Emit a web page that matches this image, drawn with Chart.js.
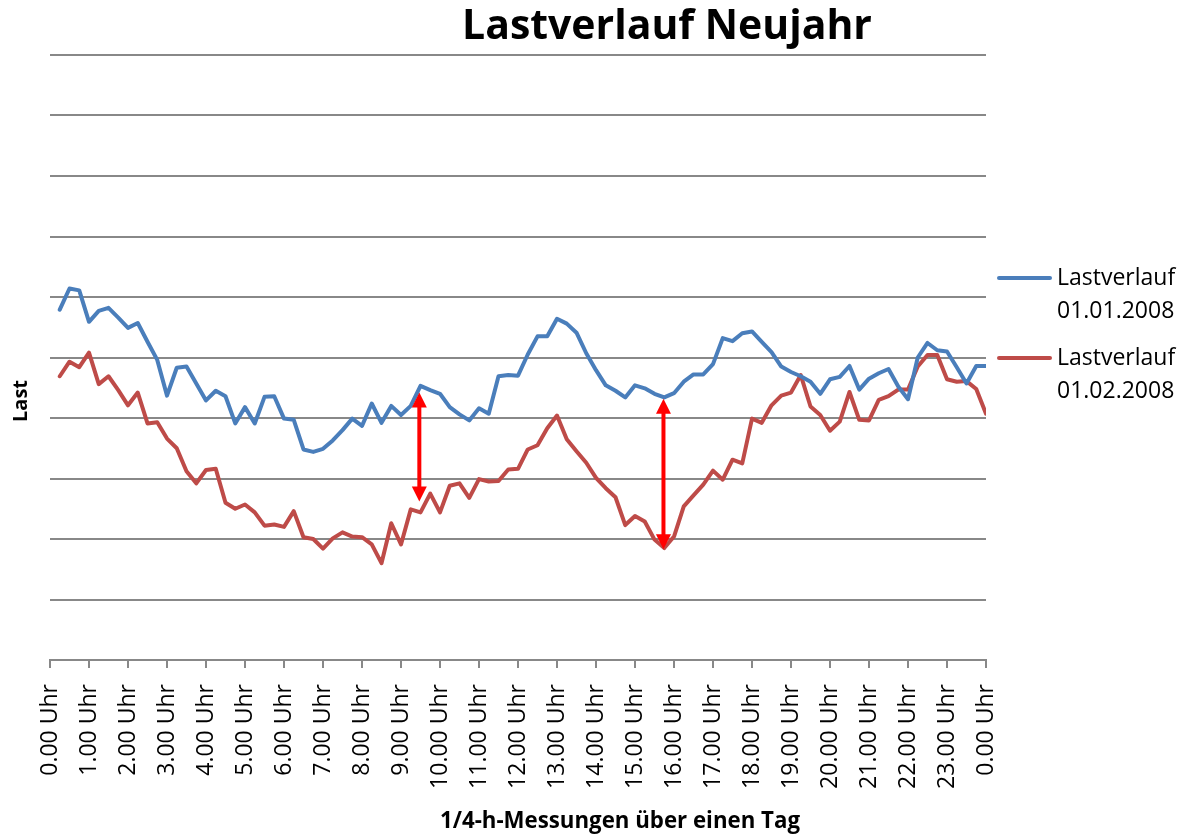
<!DOCTYPE html>
<html>
<head>
<meta charset="utf-8">
<script src="https://cdn.jsdelivr.net/npm/chart.js@4/dist/chart.umd.min.js"></script>
<style>
  html, body { margin: 0; padding: 0; background: #ffffff; }
  canvas { display: block; }
</style>
</head>
<body>
<canvas id="c" width="1185" height="838"></canvas>
<script>
// ---------------- data ----------------
const titleText = 'Lastverlauf Neujahr';
const xAxisTitle = '1/4-h-Messungen über einen Tag';
const yAxisTitle = 'Last';

const hourLabels = [
  '0.00 Uhr', '1.00 Uhr', '2.00 Uhr', '3.00 Uhr', '4.00 Uhr', '5.00 Uhr',
  '6.00 Uhr', '7.00 Uhr', '8.00 Uhr', '9.00 Uhr', '10.00 Uhr', '11.00 Uhr',
  '12.00 Uhr', '13.00 Uhr', '14.00 Uhr', '15.00 Uhr', '16.00 Uhr', '17.00 Uhr',
  '18.00 Uhr', '19.00 Uhr', '20.00 Uhr', '21.00 Uhr', '22.00 Uhr', '23.00 Uhr',
  '0.00 Uhr'
];

const seriesNames = [
  ['Lastverlauf', '01.01.2008'],
  ['Lastverlauf', '01.02.2008']
];

// quarter-hour values, 00:15 ... 24:00 (relative load units, one unit per grid line)
const load20080101 = [
  5.79, 6.14, 6.11, 5.59, 5.77, 5.82, 5.66, 5.49, 5.57, 5.26, 4.96, 4.37,
  4.83, 4.85, 4.57, 4.29, 4.45, 4.36, 3.91, 4.18, 3.91, 4.35, 4.36, 3.99,
  3.97, 3.48, 3.44, 3.49, 3.63, 3.80, 3.99, 3.87, 4.24, 3.92, 4.20, 4.05,
  4.20, 4.53, 4.46, 4.40, 4.18, 4.06, 3.96, 4.16, 4.07, 4.69, 4.71, 4.70,
  5.05, 5.35, 5.35, 5.64, 5.56, 5.41, 5.07, 4.79, 4.54, 4.45, 4.34, 4.54,
  4.49, 4.40, 4.34, 4.41, 4.60, 4.72, 4.72, 4.89, 5.32, 5.27, 5.40, 5.43,
  5.26, 5.09, 4.85, 4.76, 4.69, 4.60, 4.40, 4.64, 4.68, 4.86, 4.47, 4.65,
  4.74, 4.81, 4.52, 4.31, 5.00, 5.24, 5.12, 5.10, 4.84, 4.57, 4.86, 4.86
];

const load20080201 = [
  4.69, 4.93, 4.84, 5.08, 4.56, 4.69, 4.46, 4.21, 4.42, 3.91, 3.93, 3.66,
  3.50, 3.12, 2.92, 3.14, 3.16, 2.60, 2.50, 2.57, 2.44, 2.22, 2.24, 2.20,
  2.46, 2.03, 2.00, 1.84, 2.01, 2.11, 2.04, 2.03, 1.91, 1.60, 2.26, 1.91,
  2.49, 2.44, 2.75, 2.44, 2.88, 2.92, 2.68, 2.99, 2.95, 2.96, 3.15, 3.16,
  3.48, 3.55, 3.83, 4.04, 3.65, 3.45, 3.26, 3.01, 2.84, 2.69, 2.23, 2.38,
  2.29, 1.99, 1.85, 2.04, 2.54, 2.72, 2.90, 3.13, 2.98, 3.31, 3.25, 3.99,
  3.92, 4.21, 4.37, 4.42, 4.71, 4.19, 4.05, 3.79, 3.94, 4.43, 3.97, 3.96,
  4.30, 4.36, 4.47, 4.47, 4.85, 5.04, 5.04, 4.64, 4.60, 4.61, 4.48, 4.07
];

// red double arrows marking the difference (hour position, top value, bottom value)
const arrowHours  = [9.47, 15.73];
const arrowTop    = [4.42, 4.32];
const arrowBottom = [2.62, 1.83];

// ---------------- styling ----------------
const FONT = '"Open Sans", "DejaVu Sans", sans-serif';
const GRID = '#888888';
const BLUE = '#4A7EBB';
const RED = '#BE4B48';

function toPoints(values) {
  return values.map((v, i) => ({ x: (i + 1) / 4, y: v }));
}

function fitFont(ctx, text, targetW, weight) {
  ctx.font = weight + ' 100px ' + FONT;
  const w = ctx.measureText(text).width;
  const size = 100 * targetW / w;
  ctx.font = weight + ' ' + size.toFixed(2) + 'px ' + FONT;
}

const decorPlugin = {
  id: 'decor',
  afterDatasetsDraw(chart) {
    const ctx = chart.ctx;
    const xs = chart.scales.x, ys = chart.scales.y;
    // arrows
    ctx.save();
    ctx.strokeStyle = '#FF0000';
    ctx.fillStyle = '#FF0000';
    ctx.lineWidth = 4;
    for (let i = 0; i < arrowHours.length; i++) {
      const x = xs.getPixelForValue(arrowHours[i]);
      const yt = ys.getPixelForValue(arrowTop[i]);
      const yb = ys.getPixelForValue(arrowBottom[i]);
      const hl = 15, hw = 7.5;
      ctx.beginPath();
      ctx.moveTo(x, yt + hl - 1);
      ctx.lineTo(x, yb - hl + 1);
      ctx.stroke();
      ctx.beginPath();
      ctx.moveTo(x, yt); ctx.lineTo(x - hw, yt + hl); ctx.lineTo(x + hw, yt + hl); ctx.closePath();
      ctx.fill();
      ctx.beginPath();
      ctx.moveTo(x, yb); ctx.lineTo(x - hw, yb - hl); ctx.lineTo(x + hw, yb - hl); ctx.closePath();
      ctx.fill();
    }
    ctx.restore();
  },
  afterDraw(chart) {
    const ctx = chart.ctx;
    ctx.save();
    ctx.fillStyle = '#000000';
    // title
    fitFont(ctx, titleText, 410, 'bold');
    ctx.textAlign = 'center';
    ctx.textBaseline = 'alphabetic';
    ctx.fillText(titleText, 667, 39);
    // x axis title
    fitFont(ctx, xAxisTitle, 360, 'bold');
    ctx.fillText(xAxisTitle, 620, 828);
    // y axis title
    ctx.save();
    ctx.translate(27, 401);
    ctx.rotate(-Math.PI / 2);
    fitFont(ctx, yAxisTitle, 42, 'bold');
    ctx.textAlign = 'center';
    ctx.fillText(yAxisTitle, 0, 0);
    ctx.restore();
    // legend
    const legendY = [278, 358];
    chart.data.datasets.forEach((ds, i) => {
      const y = legendY[i];
      ctx.strokeStyle = ds.borderColor;
      ctx.lineWidth = 4;
      ctx.lineCap = 'round';
      ctx.beginPath();
      ctx.moveTo(999, y);
      ctx.lineTo(1050, y);
      ctx.stroke();
      ctx.fillStyle = '#000000';
      ctx.font = '23px ' + FONT;
      ctx.textAlign = 'left';
      ctx.textBaseline = 'middle';
      seriesNames[i].forEach((line, j) => {
        ctx.fillText(line, 1057, y + j * 33);
      });
    });
    ctx.restore();
  }
};

new Chart(document.getElementById('c'), {
  type: 'line',
  data: {
    datasets: [
      { label: seriesNames[0].join(' '), data: toPoints(load20080101), borderColor: BLUE, backgroundColor: BLUE },
      { label: seriesNames[1].join(' '), data: toPoints(load20080201), borderColor: RED, backgroundColor: RED }
    ]
  },
  options: {
    responsive: false,
    animation: false,
    devicePixelRatio: 1,
    layout: { padding: { left: 50, top: 55, right: 199, bottom: 0 } },
    plugins: {
      legend: { display: false },
      title: { display: false },
      tooltip: { enabled: false }
    },
    elements: {
      point: { radius: 0, hoverRadius: 0 },
      line: { tension: 0, borderWidth: 4, borderJoinStyle: 'round', borderCapStyle: 'round', fill: false }
    },
    scales: {
      x: {
        type: 'linear',
        min: 0,
        max: 24,
        ticks: {
          stepSize: 1,
          autoSkip: false,
          maxRotation: 90,
          minRotation: 90,
          padding: 16,
          color: '#000000',
          font: { family: FONT, size: 23 },
          callback: (v) => hourLabels[Math.round(v)]
        },
        grid: { drawOnChartArea: false, drawTicks: true, tickLength: 8, color: GRID, lineWidth: 2 },
        border: { display: true, color: GRID, width: 2 },
        afterFit: (s) => { s.height = 178; }
      },
      y: {
        min: 0,
        max: 10,
        ticks: { display: false, stepSize: 1 },
        grid: { color: GRID, lineWidth: 2, drawTicks: false },
        border: { display: false },
        afterFit: (s) => { s.width = 0; }
      }
    }
  },
  plugins: [decorPlugin]
});
</script>
</body>
</html>
